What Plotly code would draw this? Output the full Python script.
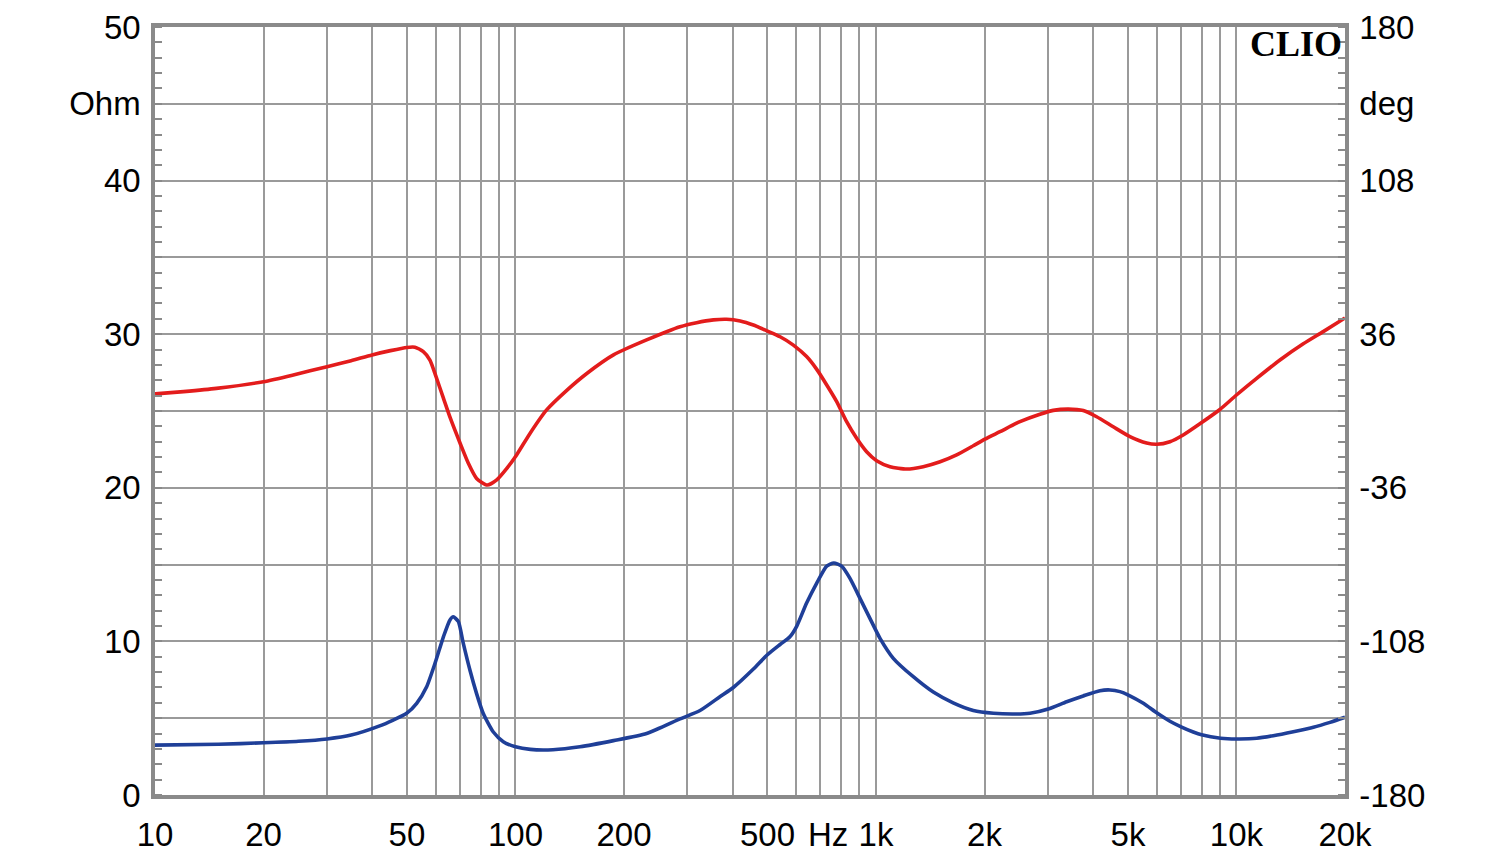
import plotly.graph_objects as go
import numpy as np

# Impedance magnitude (Ohm)
imp_freq = [10, 15, 20, 25, 30, 35, 42, 45.8, 49.9, 53.2, 56.7, 59.8, 63.1, 65.8, 67.2, 69.4, 71.6, 74.8, 78, 81.4,
            86.8, 92.5, 100, 110, 127, 151, 187, 231, 286, 325, 369, 402, 457, 498, 542, 577, 603, 642, 685,
            730, 764, 803, 847, 903, 962, 1026, 1117, 1269, 1442, 1637, 1862, 2118, 2406, 2674, 3005, 3380,
            3758, 4180, 4456, 4752, 5012, 5516, 6008, 6537, 7043, 7586, 8000, 9036, 10000, 11376, 12650,
            14380, 16350, 18170, 20000]
imp_ohm = [3.25, 3.3, 3.4, 3.5, 3.65, 3.9, 4.5, 4.88, 5.32, 5.97, 7.05, 8.57, 10.3, 11.4, 11.6, 11.3, 9.9, 8.1, 6.6, 5.3,
           4.1, 3.47, 3.14, 2.97, 2.95, 3.14, 3.54, 4.0, 4.95, 5.5, 6.4, 7.0, 8.2, 9.1, 9.8, 10.3, 11.0, 12.5, 13.8,
           14.9, 15.1, 14.9, 14.1, 12.8, 11.5, 10.2, 8.9, 7.7, 6.7, 6.0, 5.5, 5.32, 5.27, 5.32, 5.6, 6.07,
           6.45, 6.79, 6.84, 6.73, 6.51, 5.97, 5.35, 4.8, 4.42, 4.1, 3.92, 3.7, 3.65, 3.69, 3.86,
           4.12, 4.41, 4.73, 5.06]

# Impedance phase (deg)
ph_freq = [10, 12, 14.8, 20, 24.2, 30, 35, 40, 45, 50, 52.6, 55.5, 57.9, 60.2, 63.1, 66, 70.2, 74, 78, 83.5, 88.7,
           94.6, 100.7, 109.7, 122, 139, 158, 187, 231, 286, 318, 354, 385, 420, 457, 498, 542, 590, 642, 685,
           730, 778, 829, 884, 942, 1004, 1094, 1217, 1352, 1506, 1674, 1862, 2005, 2208, 2508, 2850, 3104,
           3415, 3758, 4093, 4551, 5063, 5632, 6008, 6537, 7115, 7916, 8995, 10000, 11376, 13200, 15320,
           17400, 20000]
ph_deg = [8.0, 9.1, 10.6, 13.75, 16.9, 20.8, 23.6, 26.3, 28.3, 29.8, 29.9, 27.8, 23.9, 16.1, 6.0, -3.5, -15.1, -24.5,
          -31.6, -34.7, -32.3, -26.9, -20.6, -10.5, 0.5, 9.8, 17.7, 26.3, 33.3, 39.5, 41.4, 42.7, 43.0, 42.2, 40.3,
          37.6, 34.8, 30.9, 25.5, 19.5, 12.2, 4.4, -5.0, -12.8, -19.1, -23.3, -26.1, -27.2, -26.1, -23.8, -20.6,
          -16.3, -13.2, -9.7, -5.0, -1.5, 0.3, 0.9, 0.2, -2.7, -7.4, -12.0, -15.0, -15.6, -14.4, -11.25, -6.0,
          0.7, 7.5, 15.3, 23.9, 31.5, 37.2, 43.6]

label_vals = [10, 20, 50, 100, 200, 500, 1000, 2000, 5000, 10000, 20000]
label_text = ["10", "20", "50", "100", "200", "500", "1k", "2k", "5k", "10k", "20k"]

grid_x = []
for dec in [10, 100, 1000, 10000]:
    for n in range(1, 10):
        v = n * dec
        if v <= 20000:
            grid_x.append(v)
grid_text = [label_text[label_vals.index(v)] if v in label_vals else "" for v in grid_x]

left_vals = [0, 5, 10, 15, 20, 25, 30, 35, 40, 45, 50]
left_text = ["0", "", "10", "", "20", "", "30", "", "40", "Ohm", "50"]
right_vals = [-180, -108, -36, 36, 108, 144, 180]
right_text = ["-180", "-108", "-36", "36", "108", "deg", "180"]

FONT = "Liberation Sans, Arial, sans-serif"
FS = 33
GRID = "#9a9a9a"
FRAME = "#8a8a8a"

fig = go.Figure()
fig.add_trace(go.Scatter(x=imp_freq, y=imp_ohm, mode="lines",
                         line=dict(color="#1f3f98", width=3.6, shape="spline", smoothing=0.6),
                         yaxis="y", showlegend=False, hoverinfo="skip"))
fig.add_trace(go.Scatter(x=ph_freq, y=ph_deg, mode="lines",
                         line=dict(color="#e31c1c", width=3.6, shape="spline", smoothing=0.6),
                         yaxis="y2", showlegend=False, hoverinfo="skip"))

fig.update_layout(
    width=1500, height=866,
    margin=dict(l=155, r=155, t=27, b=71),
    paper_bgcolor="white", plot_bgcolor="white",
    font=dict(family=FONT, size=FS, color="black"),
    xaxis=dict(type="log", range=[1, np.log10(20000)], tickmode="array", tickvals=grid_x, ticktext=grid_text,
               showgrid=True, gridcolor=GRID, gridwidth=1.6, ticks="", ticklen=0, showline=True, linecolor=FRAME,
               linewidth=3.5, mirror=True, ticklabelstandoff=8, zeroline=False, automargin=False),
    yaxis=dict(range=[0, 50], tickmode="array", tickvals=left_vals, ticktext=left_text,
               showgrid=True, gridcolor=GRID, gridwidth=1.6, ticks="", ticklen=0, showline=True, linecolor=FRAME,
               linewidth=3.5, mirror=True, ticklabelstandoff=4, zeroline=False, automargin=False,
               minor=dict(tickmode="linear", tick0=0, dtick=1, ticks="inside", ticklen=7, tickcolor=FRAME,
                          tickwidth=1.5, showgrid=False)),
    yaxis2=dict(range=[-180, 180], overlaying="y", side="right", tickmode="array", tickvals=right_vals,
                ticktext=right_text, showgrid=False, ticks="", ticklen=0, showline=True, linecolor=FRAME,
                linewidth=3.5, ticklabelstandoff=4, zeroline=False, automargin=False,
                minor=dict(tickmode="linear", tick0=-180, dtick=7.2, ticks="inside", ticklen=7, tickcolor=FRAME,
                           tickwidth=1.5, showgrid=False)),
    annotations=[
        dict(x=np.log10(736), y=0, xref="x", yref="paper", text="Hz", showarrow=False,
             yanchor="middle", yshift=-39, font=dict(family=FONT, size=FS, color="black")),
        dict(x=1, y=1, xref="paper", yref="paper", text="<b>CLIO</b>", showarrow=False,
             xanchor="right", yanchor="middle", xshift=-1, yshift=-17,
             font=dict(family="Liberation Serif, DejaVu Serif, serif", size=36, color="black")),
    ],
)

fig.write_html("out.html")
